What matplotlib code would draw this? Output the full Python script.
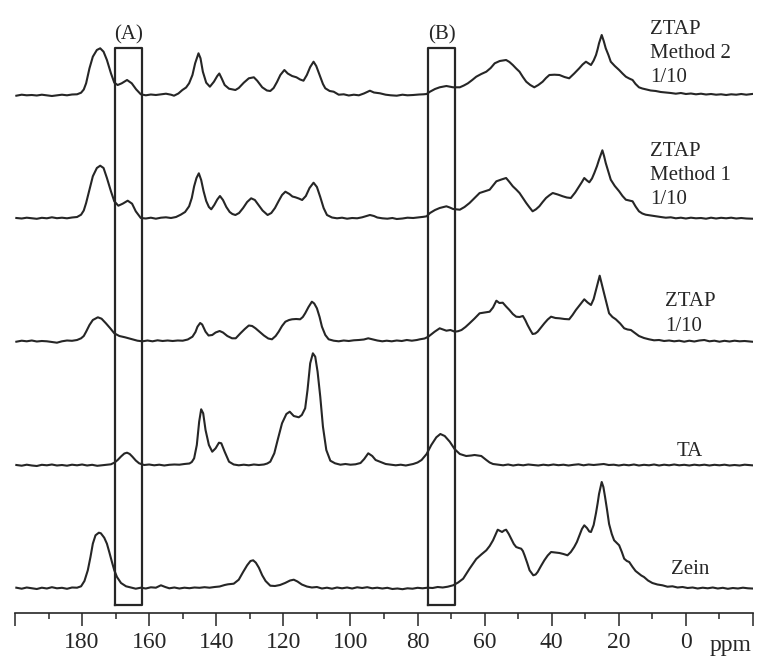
import numpy as np
import matplotlib
matplotlib.use('Agg')
import matplotlib.pyplot as plt
from matplotlib.ticker import MultipleLocator, FixedLocator

plt.rcParams['font.family'] = ['Liberation Serif', 'DejaVu Serif']

# (ppm, intensity) pairs, intensity in arbitrary units
zein = [(199.6, 0.3), (198.0, -0.7), (196.5, 0.5), (195.0, -0.3), (193.5, -1.0), (192.0, 0.3), (190.5, -0.5),
        (189.0, 0.8), (187.5, -0.3), (186.0, 0.2), (184.5, -0.8), (183.0, 0.5), (181.5, 0.3), (180.3, 1.7),
        (179.3, 7), (178.3, 17.7), (177.5, 31), (176.8, 44.3), (176.0, 52.7), (175.0, 55.3), (174.4, 54.7),
        (173.4, 50.3), (172.6, 44.3), (171.9, 36), (171.1, 26), (170.4, 17.7), (169.6, 11), (168.4, 5),
        (166.9, 1.7), (165.5, 0.5), (164.0, -0.7), (162.5, 0.3), (161.0, -0.5), (159.5, 0.7), (158.0, 0.3),
        (156.5, 2.7), (155.2, 1.0), (154.0, -0.3), (152.5, 0.5), (151.0, -0.5), (149.5, 0.3), (148.0, -0.2),
        (146.5, 0.5), (145.0, 0.2), (143.5, 0.8), (142.0, 0.3), (140.5, 1.0), (139.0, 1.5), (137.5, 3.0),
        (136.5, 3.7), (134.8, 4.3), (133.3, 8.3), (132.0, 16), (130.8, 22.7), (129.8, 27), (129.0, 27.7),
        (128.2, 25.3), (127.3, 20.3), (126.3, 12.7), (125.3, 7), (123.9, 2.3), (122.5, 2.0), (121.0, 3.0),
        (119.5, 5.0), (118.0, 7.5), (116.9, 8.3), (115.8, 6.5), (114.5, 3.5), (113.0, 1.5), (111.5, 0.5),
        (110.0, 1.0), (108.5, -0.5), (107.0, 0.3), (105.5, -0.7), (104.0, 0.5), (102.5, -0.3), (101.0, 0.5),
        (99.5, -0.5), (98.0, 0.7), (96.5, 0.0), (95.0, 0.8), (93.5, -0.3), (92.0, 0.3), (90.5, -0.5),
        (89.0, 0.2), (87.5, -1.0), (86.0, -0.5), (84.5, -1.2), (83.0, -0.3), (81.5, -0.7), (80.0, 0.2),
        (78.5, -0.3), (77.0, 0.3), (75.5, 0.0), (74.0, 1.0), (72.5, 0.5), (71.0, 1.3), (69.4, 2.7),
        (67.9, 5.5), (66.4, 9.3), (64.5, 19.3), (62.5, 29), (61.0, 33.5), (59.5, 37.7), (58.5, 42),
        (57.5, 47.7), (56.8, 53), (56.1, 58.3), (55.4, 57), (54.8, 56), (54.2, 57.5), (53.6, 58.3),
        (52.8, 54), (52.1, 49.3), (51.3, 44), (50.6, 41), (49.8, 40), (49.1, 39.3), (48.6, 37), (48.1, 32.7),
        (47.3, 25), (46.6, 17.7), (45.5, 12.7), (44.8, 13.5), (44.2, 16), (43.2, 22), (42.2, 27.7),
        (41.2, 32.5), (40.2, 36), (38.9, 35.5), (37.7, 35), (36.5, 34), (35.3, 32.7), (34.3, 36), (33.3, 41),
        (32.5, 46), (31.8, 52), (31.0, 59), (30.3, 62.7), (29.5, 60), (28.8, 56.5), (28.3, 56), (27.5, 63),
        (26.8, 75), (26.3, 85), (25.9, 94), (25.5, 100), (25.1, 106), (24.6, 101), (24.1, 91), (23.5, 78),
        (22.9, 64), (22.1, 54), (21.4, 47.7), (20.6, 45), (19.9, 42.7), (19.1, 36), (18.4, 29.3), (17.6, 27),
        (16.9, 26), (15.9, 21), (15.0, 17), (14.0, 14.3), (13.3, 12.5), (12.5, 11), (11.3, 7.5), (10.0, 5),
        (8.5, 3.5), (7.0, 2.7), (5.5, 1.3), (4.0, 1.7), (2.5, 0.5), (1.0, 1.0), (-0.5, 0), (-2.0, 0.5),
        (-3.5, -0.5), (-5.0, 0.3), (-6.5, -0.3), (-8.0, 0.5), (-9.5, -0.5), (-11.0, 0.2), (-12.5, -0.8),
        (-14.0, 0.0), (-15.5, -0.5), (-17.0, 0.3), (-18.5, -0.3), (-19.7, -0.5)]

ta = [(199.6, 0), (198.0, -0.7), (196.5, 0.3), (195.0, -0.5), (193.5, -1.0), (192.0, 0.2), (190.5, -0.3),
      (189.0, 0.5), (187.5, -0.5), (186.0, 0.0), (184.5, -0.7), (183.0, 0.3), (181.5, -0.3), (180.0, 0.5),
      (178.5, -0.5), (177.0, 0.2), (175.5, -0.8), (174.0, -0.3), (172.5, 0.3), (171.4, 0.7), (170.3, 2.5),
      (169.4, 5), (168.4, 8.5), (167.4, 11.5), (166.6, 12.3), (165.8, 11), (165.0, 8.3), (164.0, 4.5),
      (163.0, 1.7), (161.5, 0), (160.0, 0.5), (158.5, -0.3), (157.0, 0.3), (155.5, -0.5), (154.0, 0.2),
      (152.5, 0.5), (151.0, 0.3), (149.5, 1.0), (148.0, 1.5), (147.3, 3.0), (146.6, 6.7), (145.8, 20),
      (145.1, 43.3), (144.5, 55.7), (143.9, 51.7), (143.2, 35), (142.2, 20), (141.2, 13.3), (140.2, 16.7),
      (139.2, 22.3), (138.5, 21.7), (137.5, 13.3), (136.2, 3.3), (134.8, 0.5), (133.3, -0.3), (131.8, 0.3),
      (130.3, -0.3), (128.8, 0.5), (127.3, 0), (125.8, 0.5), (124.8, 1.5), (123.9, 3.3), (122.7, 11.7),
      (121.7, 25), (120.4, 41.7), (119.1, 51), (118.1, 53.3), (116.9, 49), (115.4, 47.7), (114.5, 50),
      (113.5, 56.7), (112.8, 75), (112.0, 101.7), (111.2, 111.7), (110.5, 108.3), (109.8, 93.3), (109.0, 68.3),
      (108.2, 38.3), (107.2, 15), (106.0, 4.3), (104.6, 1.7), (103.0, 0.3), (101.5, 1.0), (100.0, 0.3),
      (98.5, 0.7), (97.0, 2.0), (95.9, 6.0), (94.7, 11.7), (93.5, 9.0), (92.5, 5.0), (91.2, 3.3), (89.5, 1.0),
      (88.0, 0.3), (86.5, -0.3), (85.0, 0.3), (83.5, -0.5), (82.0, 0.5), (81.3, 1), (80.0, 2.5), (78.8, 5),
      (77.3, 11), (75.9, 20), (74.4, 27.7), (73.2, 31), (71.9, 29), (70.4, 23.3), (68.9, 15.7), (67.4, 11),
      (65.5, 9), (64.0, 9.5), (63.0, 10), (61.0, 9), (59.5, 5), (58.5, 2.5), (57.5, 1), (56.0, 0.3),
      (54.5, -0.3), (53.0, 0.5), (51.5, -0.5), (50.0, 0.3), (48.5, -0.3), (47.0, 0.5), (45.5, 0), (44.0, -0.5),
      (42.5, 0.3), (41.0, -0.3), (39.5, 0.5), (38.0, -0.2), (36.5, 0.3), (35.0, -0.5), (33.5, 0.2), (32.0, 0.7),
      (30.5, -0.3), (29.0, 0.5), (27.5, 0.0), (26.0, 0.5), (24.5, 1.0), (23.0, 0.0), (21.5, 0.3), (20.0, -0.5),
      (18.5, 0.3), (17.0, -0.3), (15.5, 0.5), (14.0, -0.5), (12.5, 0.2), (11.0, -0.3), (9.5, 0.5), (8.0, -0.5),
      (6.5, 0.3), (5.0, -0.3), (3.5, 0.5), (2.0, -0.3), (0.5, 0.2), (-1.0, -0.5), (-2.5, 0.3), (-4.0, -0.3),
      (-5.5, 0.3), (-7.0, -0.5), (-8.5, 0.2), (-10.0, -0.3), (-11.5, 0.3), (-13.0, -0.5), (-14.5, 0),
      (-16.0, -0.5), (-17.5, 0.3), (-19.7, -0.3)]

ztap = [(199.6, -0.7), (198.0, 0.3), (196.5, -0.3), (195.0, 0.5), (193.5, -0.5), (192.0, 0), (190.5, -0.3),
        (189.0, -1.0), (187.5, -1.7), (186.0, -0.3), (184.5, 0.5), (183.0, 0.2), (181.5, 1.0), (180.3, 2.7),
        (179.5, 5), (178.8, 9.3), (177.8, 16), (176.8, 21), (175.3, 23.7), (174.2, 22.3), (172.9, 17.7),
        (171.6, 12.7), (170.4, 7.7), (168.9, 5), (167.2, 3.7), (165.4, 2), (163.5, 0.3), (162.0, -0.3),
        (160.5, 0.5), (159.0, -0.3), (157.5, 0.7), (156.0, 0.0), (154.5, 0.5), (153.0, 0.0), (151.5, 0.5),
        (150.0, 0.3), (148.5, 1.5), (147.1, 4.3), (146.2, 9), (145.6, 14.3), (144.8, 18), (144.2, 16.5),
        (143.2, 9.3), (142.3, 5.5), (141.2, 6), (140.2, 8.5), (139.0, 10), (138.0, 8.5), (136.7, 5),
        (135.3, 2.7), (134.2, 2.7), (132.8, 7.7), (131.5, 12), (130.3, 15.5), (129.3, 15), (128.3, 12.7),
        (127.0, 9), (125.8, 5.5), (124.5, 2.5), (123.4, 1.7), (122.3, 5), (121.4, 9.3), (120.4, 15),
        (119.4, 19.3), (118.3, 21), (117.4, 21.7), (116.2, 22), (115.0, 21.7), (114.2, 24), (113.5, 27.7),
        (112.5, 34), (111.5, 39.3), (110.8, 37.5), (110.0, 32.7), (109.2, 24), (108.5, 14.3), (107.5, 6),
        (106.5, 1.7), (105.0, 0.3), (103.5, -0.3), (102.0, 0.5), (100.5, 0), (99.0, 0.7), (97.5, 1.0),
        (96.0, 1.5), (94.7, 2.7), (93.3, 1.5), (92.0, 0.5), (90.5, -0.3), (89.2, 0.3), (87.7, -0.3), (86.2, 0.5),
        (84.7, 0.0), (83.2, 1.0), (81.7, 0.3), (80.2, 1.0), (79.3, 1.7), (77.9, 2.5), (76.8, 4.3), (74.9, 9.3),
        (73.4, 12.7), (72.4, 11.5), (71.4, 10.3), (70.2, 11), (68.9, 9.3), (67.9, 9.8), (66.9, 11), (65.7, 14),
        (64.5, 17.7), (63.0, 22.5), (61.5, 27.7), (60.0, 28.5), (58.5, 29.3), (57.5, 33.5), (56.5, 40.3),
        (55.6, 38), (54.6, 38.3), (53.6, 34.5), (52.6, 31), (51.6, 27), (50.6, 24.3), (49.6, 24), (48.6, 25),
        (47.9, 21), (47.2, 16), (46.4, 11), (45.7, 7), (44.9, 7.5), (44.2, 9.3), (43.2, 13.5), (42.2, 17.7),
        (41.2, 21.5), (40.2, 24.3), (38.9, 23), (37.7, 22.7), (36.2, 22.0), (34.8, 21.7), (33.8, 26),
        (32.8, 31), (31.5, 36.5), (30.3, 41.7), (29.3, 38.5), (28.3, 36), (27.5, 42), (26.8, 51), (26.2, 59),
        (25.7, 65.3), (25.1, 57), (24.4, 47.7), (23.6, 37), (22.9, 27.7), (21.9, 24), (20.9, 21.7),
        (19.6, 17.5), (18.4, 12.7), (17.4, 11.5), (16.4, 11), (15.2, 8), (14.0, 5), (12.5, 3.0), (11.0, 1.7),
        (9.5, 0.7), (8.0, 1.0), (6.5, 0), (5.0, 0.5), (3.5, -0.3), (2.0, 0.3), (0.5, -0.7), (-1.0, 0.3),
        (-2.5, -0.5), (-4.0, 0.5), (-5.5, 1.0), (-7.0, -0.3), (-8.5, 0.3), (-10.0, -0.7), (-11.5, 0.2),
        (-13.0, -0.5), (-14.5, 0.3), (-16.0, -0.3), (-17.5, 0), (-19.7, -0.7)]

ztap_m1 = [(199.6, 0), (198.0, -0.5), (196.5, 0.3), (195.0, -0.3), (193.5, -0.8), (192.0, 0.2), (190.5, -0.3),
           (189.0, 0.7), (187.5, -0.2), (186.0, 0.3), (184.5, -0.3), (183.0, 0.5), (181.5, 1.0), (180.3, 3.3),
           (179.5, 7.5), (178.8, 15), (177.8, 28.3), (176.8, 41.7), (175.6, 50), (174.6, 52.3), (173.6, 50),
           (172.6, 40), (171.4, 26.7), (170.4, 16.7), (169.2, 12.3), (167.9, 14.3), (166.4, 17.3), (165.1, 14.3),
           (164.0, 6.7), (162.5, 0), (161.0, -0.5), (159.5, 0.3), (158.0, -0.7), (156.5, 0.3), (155.0, 0.7),
           (153.5, 0.0), (152.0, 1.0), (150.6, 3.3), (149.3, 6.0), (148.1, 11.7), (147.3, 20), (146.6, 31.7),
           (145.9, 40), (145.2, 44.7), (144.5, 38), (143.8, 27), (143.0, 17), (142.2, 11), (141.5, 8.7),
           (140.6, 13), (139.7, 18.5), (138.9, 22), (138.0, 18), (137.0, 11), (136.0, 6), (135.2, 4), (134.3, 3),
           (133.2, 5), (132.0, 10), (130.8, 16), (129.6, 19.7), (128.5, 18), (127.4, 13), (126.2, 7.5),
           (124.7, 3), (123.6, 5), (122.5, 10), (121.4, 17), (120.4, 23), (119.4, 26.3), (118.2, 24),
           (117.3, 21.5), (116.4, 20.7), (115.4, 19.5), (114.4, 18), (113.3, 22), (112.2, 30), (111.0, 35.3),
           (110.0, 31), (109.0, 21), (108.0, 10), (107.0, 3), (105.5, 0.5), (104.0, -0.3), (102.5, 0.3),
           (101.0, -0.7), (99.5, 0), (98.0, -0.3), (96.5, 0.7), (95.2, 2.0), (94.2, 3), (93.0, 2.0), (92.0, 0.5),
           (90.5, -0.3), (89.0, -0.7), (87.5, 0.0), (86.2, -1), (84.5, -0.5), (83.0, 0.3), (81.3, 0), (79.5, 0.7),
           (78.2, 1.2), (77.3, 1.7), (76.3, 5), (74.8, 8), (73.4, 10), (71.4, 11.7), (70.4, 10.5), (69.4, 9),
           (67.4, 8.3), (66.0, 11), (64.5, 15), (63.0, 20), (61.5, 25), (60.0, 26.7), (58.5, 28.3), (57.5, 32.5),
           (56.5, 36.7), (55.0, 38.5), (53.6, 40), (52.6, 36), (51.6, 31.7), (50.6, 28.5), (49.6, 25), (48.6, 20),
           (47.6, 15), (46.6, 10.5), (45.7, 6.7), (44.7, 8.7), (43.7, 11.7), (42.7, 16), (41.7, 20), (40.7, 22.7),
           (39.7, 25), (38.2, 23.5), (36.7, 21.7), (35.5, 20.5), (34.3, 20), (33.0, 25.5), (31.8, 31.7),
           (31.0, 36), (30.3, 40), (29.5, 37.5), (28.8, 35.7), (28.0, 39.5), (27.3, 45), (26.5, 52), (25.9, 58.3),
           (24.9, 67.7), (24.4, 62), (23.9, 55), (23.1, 46), (22.4, 38.3), (21.2, 32), (19.9, 26.7), (18.9, 22),
           (17.9, 18.3), (16.9, 17.5), (15.9, 16.7), (15.0, 11.5), (14.0, 6.7), (13.0, 4.5), (12.0, 3.3),
           (10.5, 2.5), (9.0, 1.7), (7.5, 1.0), (6.0, 0.3), (4.5, 0.7), (3.0, -0.3), (1.5, 0.3), (0.0, -0.5),
           (-1.5, 0.3), (-3.0, -0.3), (-4.5, 0.0), (-6.0, -0.7), (-7.5, 0.3), (-9.0, -0.5), (-10.5, 0.2),
           (-12.0, -0.3), (-13.5, 0.3), (-15.0, -0.5), (-16.5, 0), (-18.0, -0.5), (-19.7, -0.7)]

ztap_m2 = [(199.6, -0.7), (198.0, 0.3), (196.5, -0.3), (195.0, 0.0), (193.5, -0.5), (192.0, 0.3), (190.5, -0.3),
           (189.0, -1.0), (187.5, -0.3), (186.0, 0.3), (184.5, -0.3), (183.0, 0.5), (181.5, 0.7), (180.3, 2.3),
           (179.5, 5.5), (178.8, 11.7), (177.8, 26.7), (176.8, 38.3), (175.6, 45), (174.6, 46.7), (173.6, 43.3),
           (172.6, 35), (171.4, 21.7), (170.4, 12.3), (169.4, 10), (168.2, 11.7), (166.6, 15), (165.2, 11.7),
           (163.9, 5.7), (162.5, 0.7), (161.0, -0.3), (159.5, 0.5), (158.0, 0), (156.5, 0.7), (155.0, 1.3),
           (153.5, 0.3), (152.6, -0.7), (151.3, 1.5), (150.1, 5), (149.0, 7.5), (148.1, 11.7), (147.1, 20),
           (146.3, 31.7), (145.3, 41.7), (144.7, 36.7), (144.0, 23.3), (143.0, 12.3), (141.9, 8.3), (140.7, 13.3),
           (139.7, 19), (139.1, 21.5), (138.4, 16.7), (137.5, 10), (136.2, 6.3), (134.3, 5), (133.3, 7),
           (131.8, 12.3), (130.3, 16.7), (128.8, 17.7), (127.8, 14.3), (126.3, 7.7), (124.9, 4.5), (123.9, 4),
           (122.9, 7), (121.9, 13), (120.9, 20), (119.7, 25), (118.7, 21.5), (117.4, 19), (116.1, 17.7),
           (115.0, 15.5), (114.0, 14.3), (113.0, 20), (112.0, 28), (111.0, 33.3), (110.2, 29), (109.2, 20),
           (108.2, 11), (107.5, 6.7), (106.2, 4), (105.0, 3.3), (103.5, 0.3), (102.0, 0.7), (100.5, -0.5),
           (99.0, 0.3), (97.5, -0.3), (96.0, 1.5), (95.0, 3.0), (94.2, 4.3), (93.0, 2.5), (91.2, 1.7), (89.5, 0.3),
           (88.0, -0.3), (86.2, -0.7), (84.5, 0.3), (83.0, -0.3), (81.3, 0), (79.5, 0.5), (78.2, 0.7), (77.3, 1),
           (76.3, 3.3), (74.8, 6), (73.4, 7.7), (71.4, 9), (70.4, 8.3), (69.4, 7.7), (67.4, 7.7), (66.2, 9.5),
           (65.0, 11.7), (63.7, 15), (62.5, 18.3), (61.0, 21), (59.5, 23.3), (58.2, 27), (57.0, 31.7), (55.5, 34),
           (53.6, 35), (52.6, 33), (51.6, 30), (50.6, 26.5), (49.6, 23.3), (48.6, 18), (47.6, 13.3), (46.4, 10),
           (45.2, 7.7), (44.0, 10), (42.7, 13.3), (41.7, 17), (40.7, 20), (39.2, 20.3), (37.7, 20), (36.2, 18),
           (34.8, 16.7), (33.3, 21.5), (31.8, 26.7), (30.8, 30.5), (29.8, 33.3), (29.0, 31.5), (28.3, 30),
           (27.5, 34.5), (26.8, 40), (26.3, 46), (25.9, 51.7), (25.1, 60), (24.5, 54), (23.9, 46.7), (23.1, 40),
           (22.4, 33.3), (21.2, 29), (19.9, 25), (18.9, 21.5), (17.9, 18.3), (16.9, 16.5), (15.9, 15), (15.0, 11),
           (14.0, 7.7), (13.0, 6.5), (12.0, 5.7), (10.5, 4.5), (9.0, 4), (7.5, 3), (6.0, 2.5), (4.5, 2.0),
           (3.0, 1.3), (1.5, 2.0), (0.0, 1.0), (-1.5, 1.5), (-3.0, 0.7), (-4.5, 1.3), (-6.0, 0.5), (-7.5, 1),
           (-9.0, 0.3), (-10.5, 0.7), (-12.0, 0), (-13.5, 0.7), (-15.0, 0.3), (-16.5, 1.0), (-18.0, 0.3),
           (-19.7, 1)]

labels = ['Zein', 'TA', 'ZTAP\n1/10', 'ZTAP\nMethod 1\n1/10', 'ZTAP\nMethod 2\n1/10']
box_a = [170.1, 162.0]
box_b = [76.8, 68.9]

W, H = 757, 657
fig = plt.figure(figsize=(W / 100, H / 100), dpi=100)
ax = fig.add_axes([15 / W, 44 / H, 738 / W, 613 / H])

col = '#262626'
offsets = [25, 148, 272, 395, 518]
for spec, off in zip([zein, ta, ztap, ztap_m1, ztap_m2], offsets):
    x, y = np.array(spec).T
    ax.plot(x, y + off, color=col, lw=1.5, solid_joinstyle='round')

# highlighted regions
for (x0, x1), name in [(box_a, '(A)'), (box_b, '(B)')]:
    ax.plot([x0, x0, x1, x1, x0], [8, 565, 565, 8, 8], color=col, lw=1.6)
    ax.text((x0 + x1) / 2, 578, name, ha='center', va='center', fontsize=15, color=col)

# sample names
ax.text(10.8, 593, labels[4], ha='left', va='top', fontsize=15, color=col, linespacing=1.36)
ax.text(10.8, 471, labels[3], ha='left', va='top', fontsize=15, color=col, linespacing=1.36)
ax.text(6.3, 321, labels[2], ha='left', va='top', fontsize=15, color=col, linespacing=1.45)
ax.text(-1.0, 161, labels[1], ha='center', va='center', fontsize=15, color=col)
ax.text(-1.4, 43, labels[0], ha='center', va='center', fontsize=15, color=col)

ax.set_xlim(200, -20)
ax.set_ylim(0, 613)
for s in ['left', 'right', 'top']:
    ax.spines[s].set_visible(False)
ax.spines['bottom'].set_linewidth(1.2)
ax.spines['bottom'].set_color(col)
ax.set_yticks([])
ax.xaxis.set_major_locator(FixedLocator(np.arange(-20, 201, 20)))
ax.xaxis.set_minor_locator(MultipleLocator(10))
ax.set_xticklabels(['' if (v in (200, -20)) else str(v) for v in np.arange(-20, 201, 20)])
ax.tick_params(axis='x', which='major', direction='out', length=9.5, width=1.1, color=col,
               labelsize=17, pad=4, labelcolor=col)
ax.tick_params(axis='x', which='minor', direction='out', length=4, width=1.1, color=col)
ax.text(-13.3, -32, 'ppm', ha='center', va='center', fontsize=17, color=col, clip_on=False)

fig.savefig('out.png', dpi=100)
